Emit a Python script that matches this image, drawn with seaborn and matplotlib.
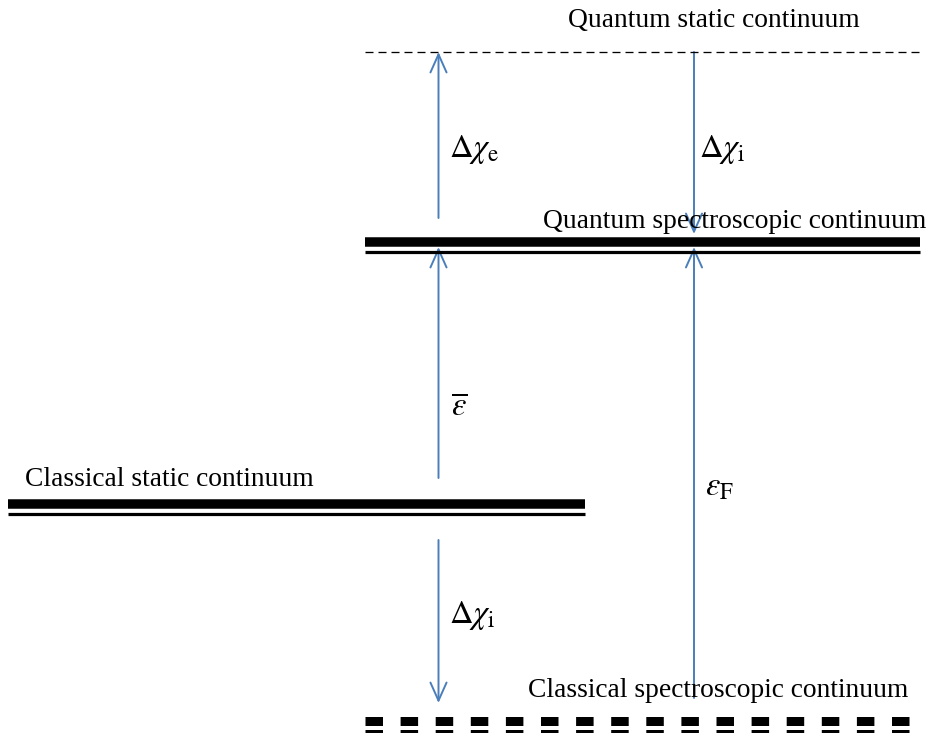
import matplotlib
matplotlib.use("Agg")
import matplotlib.pyplot as plt
import seaborn as sns
import pandas as pd
from matplotlib.patches import FancyArrowPatch, ArrowStyle

# ---- diagram data (pixel-space coordinates of the reference canvas) ----
level_names = ["Quantum static continuum", "Quantum spectroscopic continuum",
               "Classical static continuum", "Classical spectroscopic continuum"]
level_y = [52, 241.5, 503.5, 721]          # centre of main line
level_x0 = [365, 365, 8, 365]
level_x1 = [920, 920, 585, 909]
level_kind = ["dashed", "double", "double", "dashed-double"]

label_x = [568, 543, 25, 528]
label_y = [27, 228, 486, 697]              # baselines

arrow_x = [438.5, 694, 438.5, 694, 438.5]
arrow_tail = [218, 52, 478, 698, 540]
arrow_head = [52, 234, 247, 247, 703]

sym_text = [r"$\Delta\chi_{\mathrm{e}}$", r"$\Delta\chi_{\mathrm{i}}$",
            r"$\overline{\varepsilon}$", r"$\varepsilon_{\mathrm{F}}$",
            r"$\Delta\chi_{\mathrm{i}}$"]
sym_x = [449, 699, 451, 705, 449]
sym_y = [157, 157, 416, 496, 623]

W, H = 929, 736
sns.set_theme(style="white")
plt.rcParams["font.family"] = ["Liberation Serif", "DejaVu Serif"]
plt.rcParams["mathtext.fontset"] = "stix"
plt.rcParams["lines.scale_dashes"] = False

fig = plt.figure(figsize=(W / 100, H / 100), dpi=100)
ax = fig.add_axes([0, 0, 1, 1])
ax.set_xlim(0, W)
ax.set_ylim(H, 0)
ax.axis("off")

PX = 0.72  # points per pixel at 100 dpi


def hline(x0, x1, y, lw_px, dashes=None):
    df = pd.DataFrame({"x": [x0, x1], "y": [y, y]})
    kw = dict(color="black", linewidth=lw_px * PX, solid_capstyle="butt")
    sns.lineplot(data=df, x="x", y="y", ax=ax, legend=False, **kw)
    if dashes is not None:
        ax.lines[-1].set_dashes(dashes)
        ax.lines[-1].set_dash_capstyle("butt")


for i, kind in enumerate(level_kind):
    x0, x1, y = level_x0[i], level_x1[i], level_y[i]
    if kind == "dashed":
        hline(x0, x1, y, 1.3, dashes=(8 * PX, 5 * PX))
    elif kind == "double":
        hline(x0, x1, y, 9.5)
        hline(x0, x1, y + 10, 3.2)
    else:
        hline(x0, x1, y, 9.0, dashes=(17.5 * PX, 17.6 * PX))
        hline(x0, x1, y + 10, 3.0, dashes=(17.5 * PX, 17.6 * PX))

ax.set_xlim(0, W)
ax.set_ylim(H, 0)

for name, x, y in zip(level_names, label_x, label_y):
    ax.text(x, y, name, fontsize=19.8, color="black", ha="left", va="baseline")

style = ArrowStyle("->", head_length=13, head_width=5.8)
for x, t, h in zip(arrow_x, arrow_tail, arrow_head):
    ax.add_patch(FancyArrowPatch((x, t), (x, h), arrowstyle=style,
                                 mutation_scale=1, color="#4A7EBB",
                                 linewidth=1.4, shrinkA=0, shrinkB=0))

for s, x, y in zip(sym_text, sym_x, sym_y):
    ax.text(x, y, s, fontsize=23.5, color="black", ha="left", va="baseline")

fig.savefig("out.png", dpi=100)
